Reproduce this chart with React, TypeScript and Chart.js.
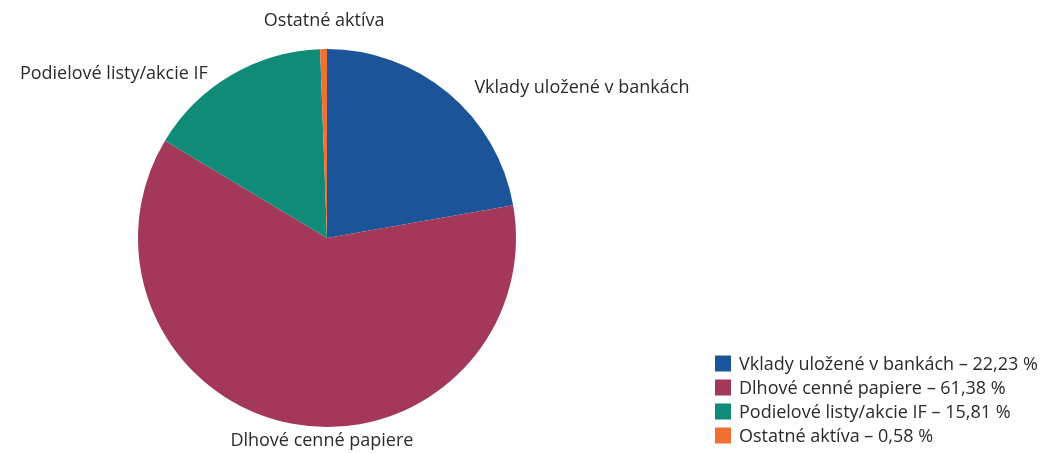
import React, { useEffect, useRef } from "react";
import { Chart, registerables } from "chart.js";

Chart.register(...registerables);

const categories = [
  "Vklady uložené v bankách",
  "Dlhové cenné papiere",
  "Podielové listy/akcie IF",
  "Ostatné aktíva",
];
const values = [22.23, 61.38, 15.81, 0.58];
const valueLabels = ["22,23 %", "61,38 %", "15,81 %", "0,58 %"];
const colors = ["#1B5499", "#A43858", "#108B77", "#F07032"];

const FONT = "18px 'Open Sans', 'Noto Sans', sans-serif";
const TEXT = "#2b2b2b";

// fine nudges for outside labels (dx, dy) relative to computed anchor
const labelNudges: [number, number][] = [
  [13, 10],
  [33, -3],
  [-13, 16],
  [1, -8],
];

const outsideLabels = {
  id: "outsideLabels",
  afterDraw(chart: any) {
    const ctx = chart.ctx;
    const meta = chart.getDatasetMeta(0);
    ctx.save();
    ctx.font = FONT;
    ctx.fillStyle = TEXT;
    ctx.textBaseline = "middle";
    meta.data.forEach((arc: any, i: number) => {
      const mid = (arc.startAngle + arc.endAngle) / 2;
      const R = arc.outerRadius + 20;
      const c = Math.cos(mid);
      const s = Math.sin(mid);
      const x = arc.x + R * c + labelNudges[i][0];
      const y = arc.y + R * s + labelNudges[i][1];
      let align: CanvasTextAlign = "center";
      if (c > 0.3) align = "left";
      else if (c < -0.3) align = "right";
      ctx.textAlign = align;
      ctx.fillText(categories[i], x, y);
    });
    ctx.restore();
  },
};

const customLegend = {
  id: "customLegend",
  afterDraw(chart: any) {
    const ctx = chart.ctx;
    const x0 = 715;
    const y0 = 363.5;
    const step = 24;
    ctx.save();
    ctx.font = FONT;
    ctx.textBaseline = "middle";
    ctx.textAlign = "left";
    categories.forEach((cat, i) => {
      const y = y0 + i * step;
      ctx.fillStyle = colors[i];
      ctx.fillRect(x0, y - 8, 16, 16);
      ctx.fillStyle = TEXT;
      ctx.fillText(`${cat} – ${valueLabels[i]}`, x0 + 24, y + 1);
    });
    ctx.restore();
  },
};

export default function App() {
  const ref = useRef<HTMLCanvasElement | null>(null);
  useEffect(() => {
    document.body.style.margin = "0";
    const chart = new Chart(ref.current as HTMLCanvasElement, {
      type: "pie",
      data: {
        labels: categories,
        datasets: [
          {
            data: values,
            backgroundColor: colors,
            borderWidth: 0,
          },
        ],
      },
      options: {
        responsive: false,
        animation: false,
        layout: { padding: { left: 138, right: 535, top: 49, bottom: 26 } },
        plugins: {
          legend: { display: false },
          tooltip: { enabled: false },
        },
      },
      plugins: [outsideLabels, customLegend],
    });
    return () => chart.destroy();
  }, []);
  return (
    <div style={{ width: 1051, height: 453, background: "#fff" }}>
      <canvas ref={ref} width={1051} height={453} />
    </div>
  );
}
